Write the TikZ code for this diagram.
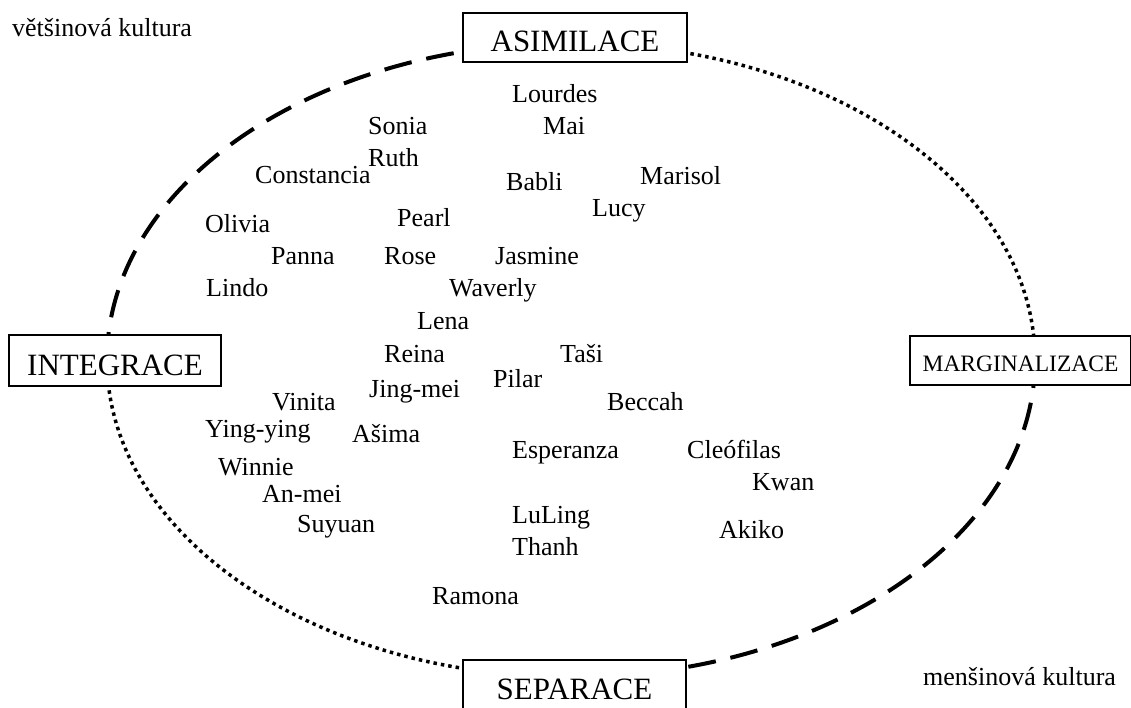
\documentclass[tikz,border=0pt]{standalone}
\usepackage{fontspec}
\setmainfont{Liberation Serif}
\begin{document}
\begin{tikzpicture}[x=1pt,y=-1pt,
  nm/.style={anchor=base west, inner sep=0pt, font=\fontsize{26}{30}\selectfont},
  stagebox/.style={draw, line width=2pt, fill=white, inner sep=0pt, text height=29pt, text depth=0pt, minimum height=49pt, font=\fontsize{31}{36}\selectfont},
  dashline/.style={line width=4pt, dash pattern=on 28pt off 15pt},
  dotline/.style={line width=3.5pt, dash pattern=on 3.5pt off 4pt}
]
\useasboundingbox (0,0) rectangle (1131,708);
\clip (0,0) rectangle (1131,708);
\coordinate (c) at (571,360);
% ellipse quadrants
\draw[dashline] (c) ++(180:464 and 317) arc[start angle=180, end angle=270, x radius=464, y radius=317];
\draw[dotline] (c) ++(270:464 and 317) arc[start angle=270, end angle=360, x radius=464, y radius=317];
\draw[dashline] (c) ++(0:464 and 317) arc[start angle=0, end angle=90, x radius=464, y radius=317];
\draw[dotline] (c) ++(90:464 and 317) arc[start angle=90, end angle=180, x radius=464, y radius=317];
% stage boxes
\node[stagebox, minimum width=224pt] (asim) at (575,37.5) {ASIMILACE};
\node[stagebox, minimum width=212pt, minimum height=51pt] (integ) at (115,360.5) {INTEGRACE};
\node[stagebox, minimum width=221pt, text height=22pt, font=\fontsize{23.5}{28}\selectfont] (marg) at (1020.5,360.5) {MARGINALIZACE};
\node[stagebox, minimum width=223pt] (sep) at (574.5,684.5) {SEPARACE};
% corner labels
\node[nm] (maj) at (12,37) {většinová kultura};
\node[nm] (min) at (923,685) {menšinová kultura};
% names
\node[nm] (n1) at (512,103) {Lourdes};
\node[nm] (n2) at (368,135) {Sonia};
\node[nm] (n3) at (543,135) {Mai};
\node[nm] (n4) at (368,167) {Ruth};
\node[nm] (n5) at (255,184) {Constancia};
\node[nm] (n6) at (506,191) {Babli};
\node[nm] (n7) at (640,185) {Marisol};
\node[nm] (n8) at (592,217) {Lucy};
\node[nm] (n9) at (205,233) {Olivia};
\node[nm] (n10) at (397,227) {Pearl};
\node[nm] (n11) at (271,265) {Panna};
\node[nm] (n12) at (384,265) {Rose};
\node[nm] (n13) at (495,265) {Jasmine};
\node[nm] (n14) at (206,297) {Lindo};
\node[nm] (n15) at (449,297) {Waverly};
\node[nm] (n16) at (417,329) {Lena};
\node[nm] (n17) at (384,362) {Reina};
\node[nm] (n18) at (560,362) {Taši};
\node[nm] (n19) at (493,387) {Pilar};
\node[nm] (n20) at (369,397) {Jing-mei};
\node[nm] (n21) at (272,410) {Vinita};
\node[nm] (n22) at (607,410) {Beccah};
\node[nm] (n23) at (205,437) {Ying-ying};
\node[nm] (n24) at (352,442) {Ašima};
\node[nm] (n25) at (512,458) {Esperanza};
\node[nm] (n26) at (687,458) {Cleófilas};
\node[nm] (n27) at (218,475) {Winnie};
\node[nm] (n28) at (752,490) {Kwan};
\node[nm] (n29) at (262,502) {An-mei};
\node[nm] (n30) at (297,532) {Suyuan};
\node[nm] (n31) at (512,523) {LuLing};
\node[nm] (n32) at (719,538) {Akiko};
\node[nm] (n33) at (512,555) {Thanh};
\node[nm] (n34) at (432,604) {Ramona};
\end{tikzpicture}
\end{document}
